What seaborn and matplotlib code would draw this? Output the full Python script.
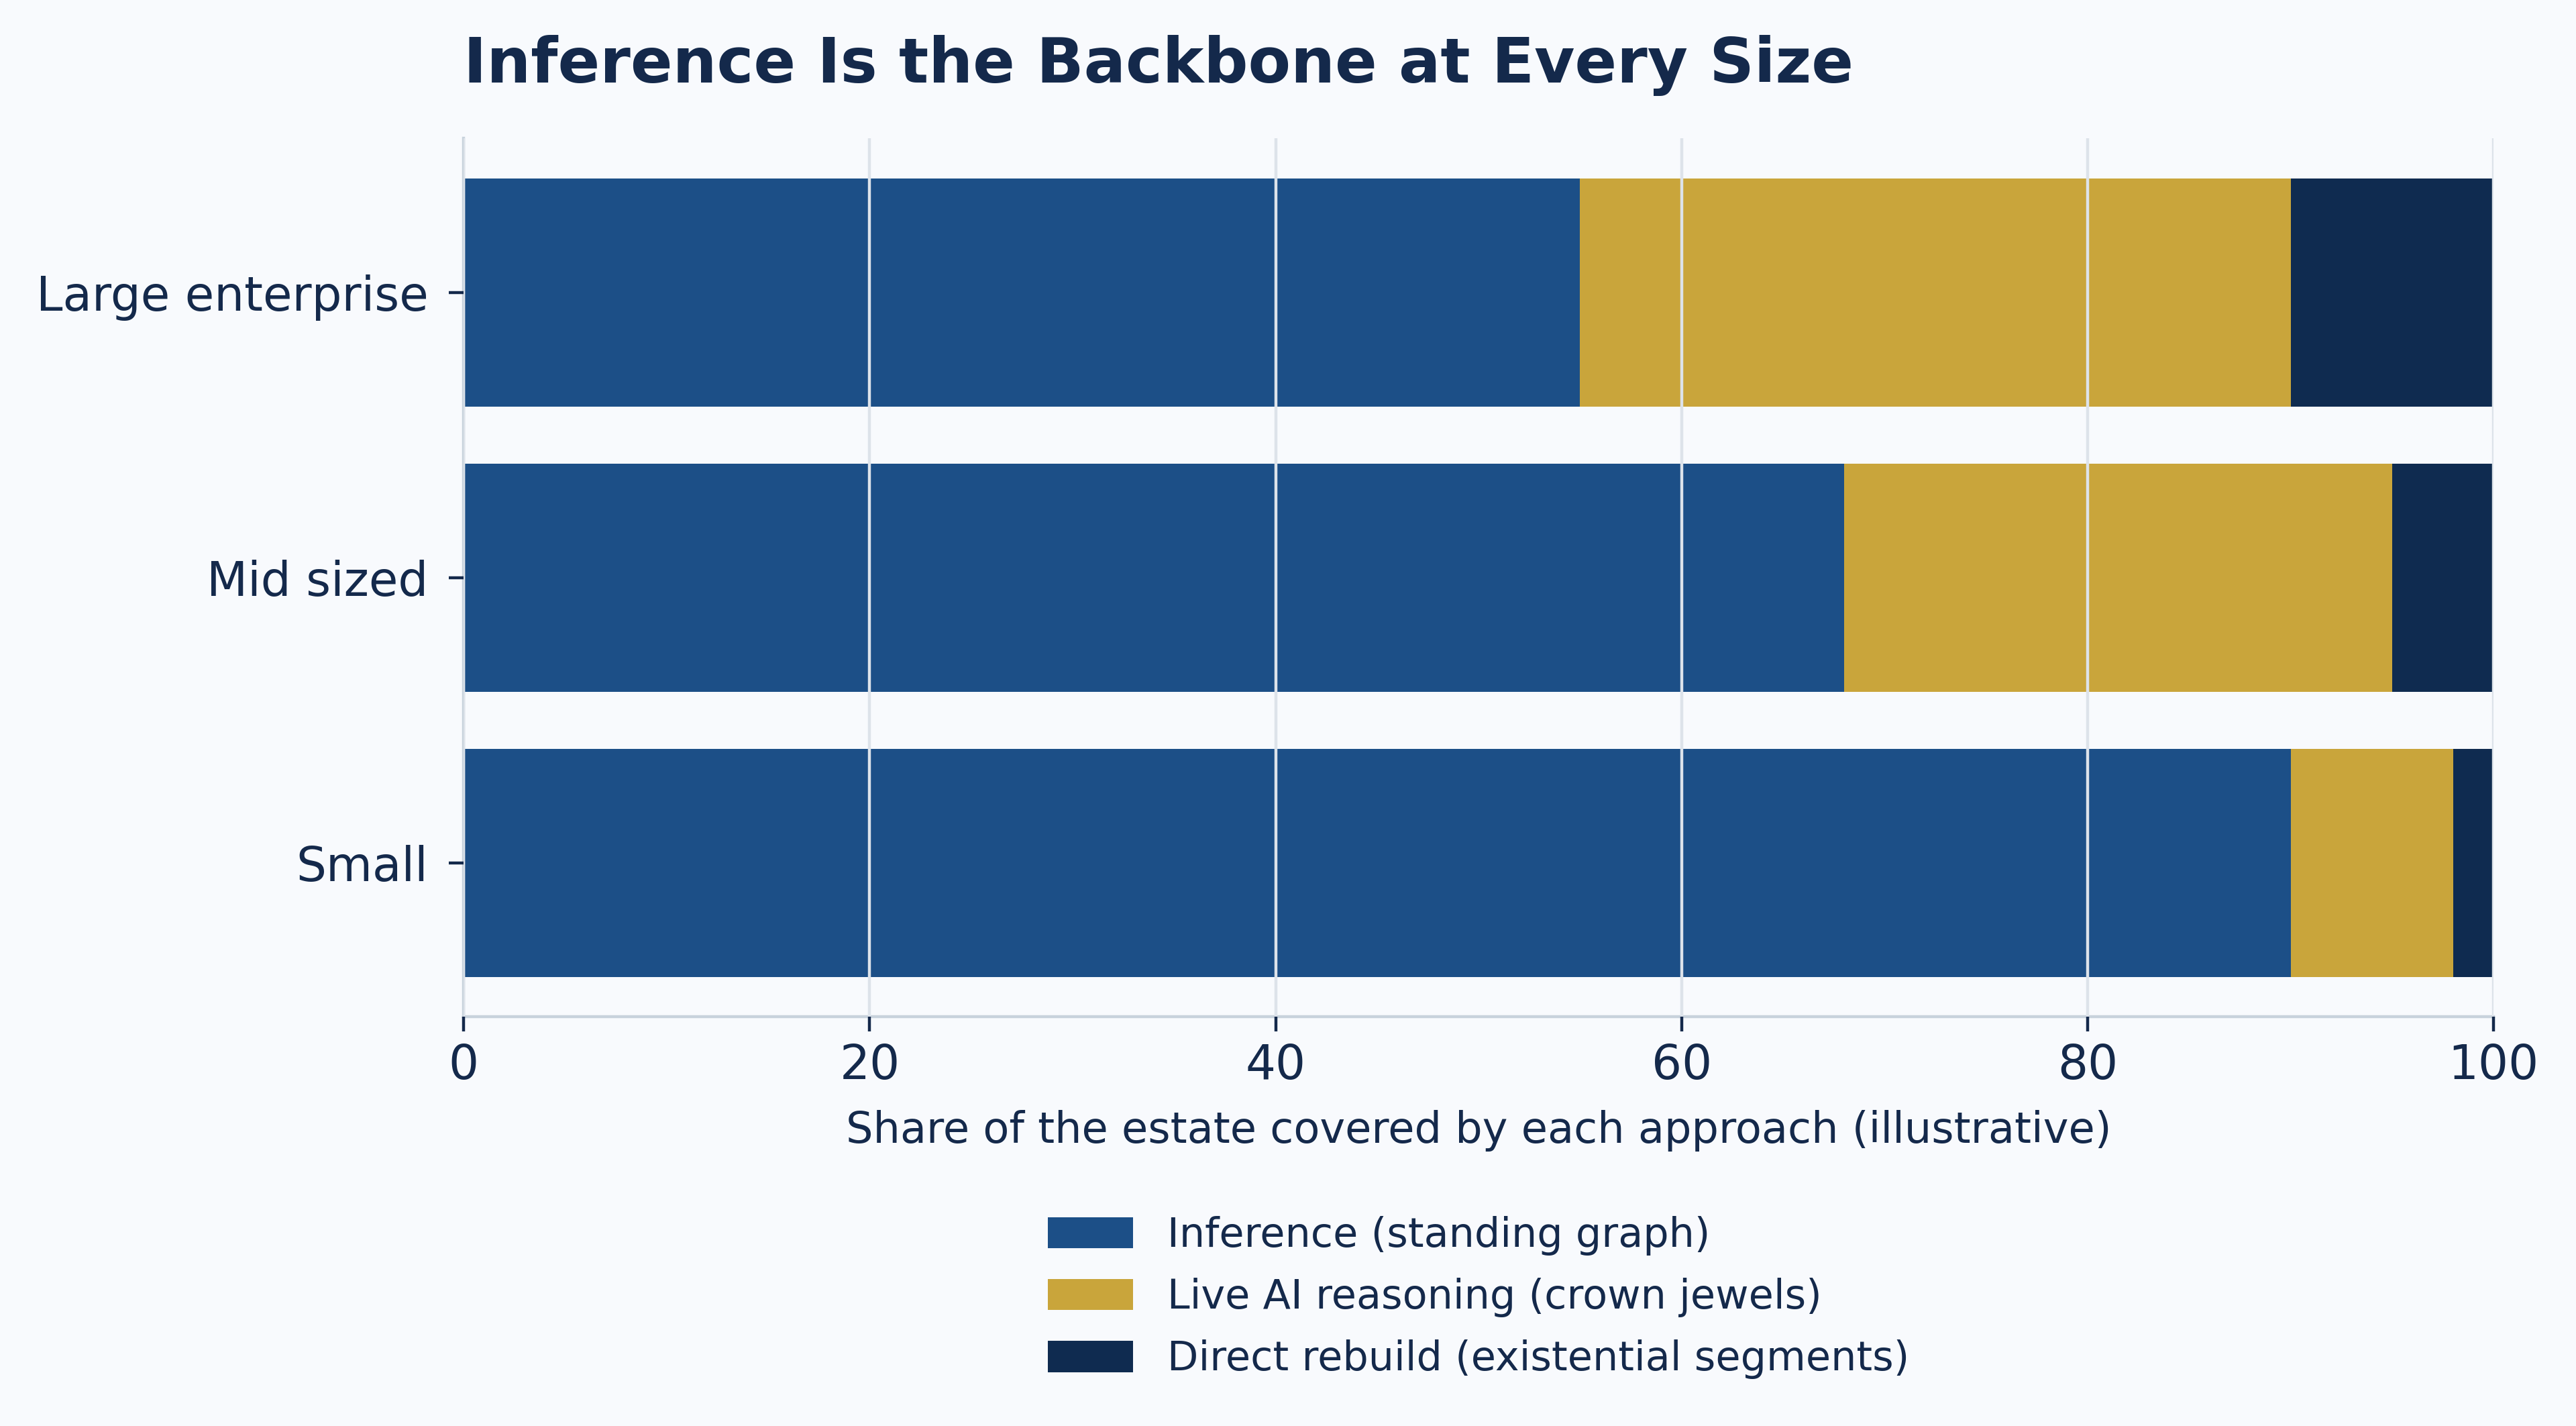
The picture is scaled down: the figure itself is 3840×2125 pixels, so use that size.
import matplotlib
matplotlib.use("Agg")
import matplotlib.pyplot as plt
from matplotlib.patches import Patch
import seaborn as sns
import pandas as pd
import numpy as np

# data
segments = ["Large enterprise", "Mid sized", "Small"]
inference = [55, 68, 90]
live_ai = [35, 27, 8]
direct = [10, 5, 2]
series_names = ["Inference (standing graph)",
                "Live AI reasoning (crown jewels)",
                "Direct rebuild (existential segments)"]
colors = ["#1c4f87", "#c9a53b", "#0f2b50"]

bg = "#f8fafd"
ink = "#14294b"

sns.set_theme(style="white")
plt.rcParams["font.family"] = ["DejaVu Sans"]

df = pd.DataFrame({"segment": segments,
                   "inference": inference,
                   "live_ai": live_ai,
                   "direct": direct})
# stacked bars via cumulative totals, drawn back to front
df["c1"] = df["inference"]
df["c2"] = df["inference"] + df["live_ai"]
df["c3"] = df["c2"] + df["direct"]

fig, ax = plt.subplots(figsize=(19.2, 10.625), dpi=200)
fig.patch.set_facecolor(bg)
ax.set_facecolor(bg)

for col, c in zip(["c3", "c2", "c1"], colors[::-1]):
    sns.barplot(data=df, y="segment", x=col, orient="h", color=c,
                saturation=1, width=0.8, ax=ax, linewidth=0)

ax.set_xlim(0, 100)
ax.set_ylim(2.54, -0.54)
ax.set_xticks([0, 20, 40, 60, 80, 100])
ax.grid(axis="x", color="#dde3ea", linewidth=1.6)
ax.set_axisbelow(False)

for s in ["top", "right"]:
    ax.spines[s].set_visible(False)
for s in ["left", "bottom"]:
    ax.spines[s].set_color("#c8d2dc")
    ax.spines[s].set_linewidth(1.6)

ax.tick_params(axis="x", labelsize=25.5, colors=ink, length=8, width=1.6, pad=6)
ax.tick_params(axis="y", labelsize=25.5, colors=ink, length=8, width=1.6, pad=11)
ax.tick_params(bottom=True, left=True)

ax.set_ylabel("")
ax.set_xlabel("Share of the estate covered by each approach (illustrative)",
              fontsize=23, color=ink, labelpad=11)
ax.set_title("Inference Is the Backbone at Every Size", loc="left",
             fontsize=33.3, fontweight="bold", color=ink, pad=30)

fig.subplots_adjust(left=0.18, right=0.968, top=0.903, bottom=0.287)

handles = [Patch(facecolor=c, edgecolor="none", label=n)
           for c, n in zip(colors, series_names)]
pos = ax.get_position()
fig.legend(handles=handles, loc="upper center",
           bbox_to_anchor=((pos.x0 + pos.x1) / 2, 0.173),
           frameon=False, fontsize=21.8, labelcolor=ink,
           handlelength=2.1, handleheight=0.8, handletextpad=0.85,
           labelspacing=0.55)

fig.savefig("out.png", dpi=200, facecolor=bg)
